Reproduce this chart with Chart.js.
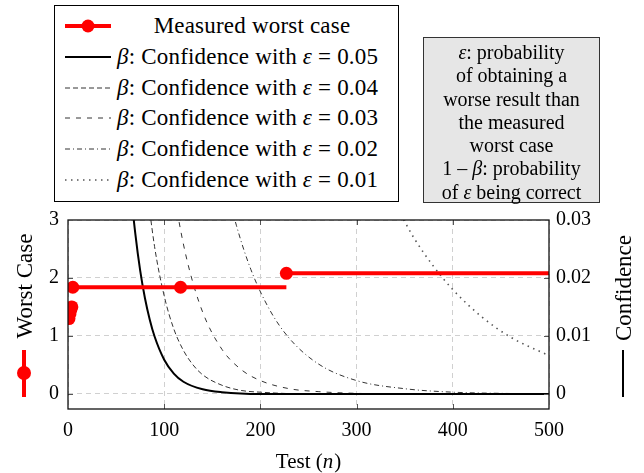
<!DOCTYPE html>
<html>
<head>
<meta charset="utf-8">
<script src="https://cdn.jsdelivr.net/npm/chart.js@4.4.0/dist/chart.umd.min.js"></script>
<style>
  body { margin: 0; background: #fff; }
  #wrap { position: relative; width: 644px; height: 473px; font-family: "Liberation Serif", serif; color: #000; }
  #chart { position: absolute; left: 0; top: 0; }
  #legend { position: absolute; left: 54px; top: 5px; width: 345px; height: 197px; border: 1.3px solid #000; box-sizing: border-box; background: #fff; font-size: 23px; }
  .row { position: absolute; left: 0; height: 30px; width: 100%; }
  .row svg { position: absolute; left: 10px; top: 0; }
  .row span { position: absolute; left: 62px; top: 0; white-space: nowrap; line-height: 30px; letter-spacing: 0.2px; }
  .row span.center { width: 270px; text-align: center; }
  #note { position: absolute; left: 423px; top: 37px; width: 177px; height: 166px; box-sizing: border-box; border: 1.2px solid #333; background: #e6e6e6; font-size: 20px; line-height: 23.3px; text-align: center; padding-top: 3px; }
</style>
</head>
<body>
<div id="wrap">
  <canvas id="chart" width="644" height="473"></canvas>
  <div id="legend"></div>
  <div id="note">
    <i>ε</i>: probability<br>of obtaining a<br>worse result than<br>the measured<br>worst case<br>1 – <i>β</i>: probability<br>of <i>ε</i> being correct
  </div>
</div>
<script>
// Measured worst case (left axis)
const worstN = [1, 2, 3, 4, 5, 117, 227];
const worstVal = [1.30, 1.38, 1.45, 1.50, 1.84, 1.84, 2.08];
const xEnd = 500;

// Confidence curves (right axis)
const conf05N = [60, 65, 70, 75, 80, 85, 90, 100, 110, 120, 140, 160, 200, 250, 500];
const conf05 = [0.0461, 0.0356, 0.0276, 0.0213, 0.0165, 0.0128, 0.0099, 0.0059, 0.0035, 0.0021, 0.0008, 0.0003, 0.0000, 0, 0];
const conf04N = [80, 90, 100, 110, 120, 130, 140, 160, 180, 200, 250, 300, 500];
const conf04 = [0.0382, 0.0254, 0.0169, 0.0112, 0.0075, 0.0050, 0.0033, 0.0015, 0.0006, 0.0003, 0.0000, 0, 0];
const conf03N = [105, 115, 125, 140, 160, 180, 200, 230, 260, 300, 350, 500];
const conf03 = [0.0409, 0.0301, 0.0222, 0.0141, 0.0077, 0.0042, 0.0023, 0.0009, 0.0004, 0.0001, 0.0000, 0];
const conf02N = [165, 175, 190, 210, 230, 260, 300, 350, 400, 450, 500];
const conf02 = [0.0357, 0.0291, 0.0215, 0.0144, 0.0096, 0.0052, 0.0023, 0.0009, 0.0003, 0.0001, 0.0000];
const conf01N = [340, 360, 380, 400, 430, 460, 500];
const conf01 = [0.0328, 0.0268, 0.0220, 0.0180, 0.0133, 0.0098, 0.0066];

// Tick labels
const xTicks = [0, 100, 200, 300, 400, 500];
const worstTicks = [0, 1, 2, 3];
const confTicks = [0, 0.01, 0.02, 0.03];
const confTickLabels = ['0', '0.01', '0.02', '0.03'];

const serif = '"Liberation Serif", serif';
const tickFont = { family: serif, size: 20 };

// each measured value is drawn as a flat segment up to the next measurement
const worstPoints = [];
worstN.forEach((n, i) => {
  const next = i + 1 < worstN.length ? worstN[i + 1] : xEnd;
  worstPoints.push({ x: n, y: worstVal[i], mark: true });
  worstPoints.push({ x: next, y: worstVal[i] });
  worstPoints.push({ x: next, y: null });
});

const pair = (ns, vs) => ns.map((n, i) => ({ x: n, y: vs[i] }));

const confStyles = [
  { label: 'ε = 0.05', data: pair(conf05N, conf05), color: '#000', width: 2, dash: [] },
  { label: 'ε = 0.04', data: pair(conf04N, conf04), color: '#333', width: 1, dash: [5, 3] },
  { label: 'ε = 0.03', data: pair(conf03N, conf03), color: '#333', width: 1, dash: [5, 6] },
  { label: 'ε = 0.02', data: pair(conf02N, conf02), color: '#333', width: 1, dash: [5, 3, 1, 3] },
  { label: 'ε = 0.01', data: pair(conf01N, conf01), color: '#555', width: 1.6, dash: [1.5, 4.5] }
];

const datasets = [{
  label: 'Measured worst case',
  data: worstPoints,
  yAxisID: 'y',
  borderColor: '#ff0000',
  backgroundColor: '#ff0000',
  borderWidth: 4,
  pointRadius: ctx => (ctx.raw && ctx.raw.mark ? 6.5 : 0),
  pointBorderWidth: 0,
  spanGaps: false,
  order: 0
}];
confStyles.forEach(s => {
  datasets.push({
    label: s.label,
    data: s.data,
    yAxisID: 'y2',
    borderColor: s.color,
    borderWidth: s.width,
    borderDash: s.dash,
    pointRadius: 0,
    cubicInterpolationMode: 'monotone',
    order: 1
  });
});

// legend (pgfplots style)
const legend = document.getElementById('legend');
const legendRows = [
  { svg: '<line x1="0" y1="15" x2="46" y2="15" stroke="#f00" stroke-width="4"/><circle cx="23" cy="15" r="6.5" fill="#f00"/>', text: 'Measured worst case', center: true },
  { svg: '<line x1="0" y1="15" x2="46" y2="15" stroke="#000" stroke-width="2"/>', text: '<i>β</i>: Confidence with <i>ε</i> = 0.05' },
  { svg: '<line x1="0" y1="15" x2="46" y2="15" stroke="#333" stroke-width="1" stroke-dasharray="5 3"/>', text: '<i>β</i>: Confidence with <i>ε</i> = 0.04' },
  { svg: '<line x1="0" y1="15" x2="46" y2="15" stroke="#333" stroke-width="1" stroke-dasharray="5 6"/>', text: '<i>β</i>: Confidence with <i>ε</i> = 0.03' },
  { svg: '<line x1="0" y1="15" x2="46" y2="15" stroke="#333" stroke-width="1" stroke-dasharray="5 3 1 3"/>', text: '<i>β</i>: Confidence with <i>ε</i> = 0.02' },
  { svg: '<line x1="0" y1="15" x2="46" y2="15" stroke="#555" stroke-width="1.6" stroke-dasharray="1.5 4.5"/>', text: '<i>β</i>: Confidence with <i>ε</i> = 0.01' }
];
legendRows.forEach((r, i) => {
  const row = document.createElement('div');
  row.className = 'row';
  row.style.top = (5 + i * 30.8) + 'px';
  row.innerHTML = '<svg width="46" height="30">' + r.svg + '</svg><span' + (r.center ? ' class="center"' : '') + '>' + r.text + '</span>';
  legend.appendChild(row);
});

// frame, inside ticks and axis titles with their icons
const decorations = {
  id: 'decorations',
  afterDraw(chart) {
    const { ctx, chartArea: a, scales } = chart;
    ctx.save();
    ctx.strokeStyle = '#555';
    ctx.lineWidth = 1;
    xTicks.slice(1, -1).forEach(v => {
      const px = Math.round(scales.x.getPixelForValue(v)) + 0.5;
      ctx.beginPath();
      ctx.moveTo(px, a.bottom); ctx.lineTo(px, a.bottom - 5);
      ctx.moveTo(px, a.top); ctx.lineTo(px, a.top + 5);
      ctx.stroke();
    });
    worstTicks.slice(0, -1).forEach(v => {
      const py = Math.round(scales.y.getPixelForValue(v)) + 0.5;
      ctx.beginPath();
      ctx.moveTo(a.left, py); ctx.lineTo(a.left + 5, py);
      ctx.stroke();
    });
    confTicks.slice(0, -1).forEach(v => {
      const py = Math.round(scales.y2.getPixelForValue(v)) + 0.5;
      ctx.beginPath();
      ctx.moveTo(a.right, py); ctx.lineTo(a.right - 5, py);
      ctx.stroke();
    });
    ctx.strokeStyle = '#111';
    ctx.lineWidth = 1.3;
    ctx.strokeRect(a.left, a.top, a.right - a.left, a.bottom - a.top);

    // x title: Test (n)
    ctx.fillStyle = '#000';
    ctx.textBaseline = 'alphabetic';
    const up = '21px ' + serif, it = 'italic 21px ' + serif;
    ctx.font = up;
    const w1 = ctx.measureText('Test (').width, w3 = ctx.measureText(')').width;
    ctx.font = it;
    const w2 = ctx.measureText('n').width + 1;
    const tx = (a.left + a.right) / 2 - (w1 + w2 + w3) / 2;
    const ty = 468;
    ctx.font = up; ctx.fillText('Test (', tx, ty);
    ctx.font = it; ctx.fillText('n', tx + w1, ty);
    ctx.font = up; ctx.fillText(')', tx + w1 + w2, ty);

    const big = '23px ' + serif;
    // left title + red icon
    ctx.save();
    ctx.translate(32, 286);
    ctx.rotate(-Math.PI / 2);
    ctx.font = big;
    ctx.textAlign = 'center';
    ctx.fillText('Worst Case', 0, 0);
    ctx.restore();
    ctx.strokeStyle = '#f00';
    ctx.fillStyle = '#f00';
    ctx.lineWidth = 4;
    ctx.beginPath(); ctx.moveTo(24, 350); ctx.lineTo(24, 397); ctx.stroke();
    ctx.beginPath(); ctx.arc(24, 373, 7, 0, Math.PI * 2); ctx.fill();

    // right title + black line icon
    ctx.fillStyle = '#000';
    ctx.save();
    ctx.translate(631, 288);
    ctx.rotate(-Math.PI / 2);
    ctx.font = big;
    ctx.textAlign = 'center';
    ctx.fillText('Confidence', 0, 0);
    ctx.restore();
    ctx.strokeStyle = '#000';
    ctx.lineWidth = 2;
    ctx.beginPath(); ctx.moveTo(623, 350); ctx.lineTo(623, 397); ctx.stroke();
    ctx.restore();
  }
};

const gridStyle = { color: '#d0d0d0', lineWidth: 1, drawTicks: false };

new Chart(document.getElementById('chart'), {
  type: 'line',
  data: { datasets },
  options: {
    responsive: false,
    animation: false,
    layout: { padding: { top: 220, left: 0, right: 0, bottom: 0 } },
    plugins: { legend: { display: false }, tooltip: { enabled: false } },
    scales: {
      x: {
        type: 'linear', min: 0, max: xEnd,
        afterBuildTicks: s => { s.ticks = xTicks.map(v => ({ value: v })); },
        afterFit: s => { s.height = 64; },
        grid: gridStyle,
        border: { display: false, dash: [5, 4] },
        ticks: { font: tickFont, color: '#000', padding: 10, maxRotation: 0 }
      },
      y: {
        position: 'left', min: -0.26, max: 3,
        afterBuildTicks: s => { s.ticks = worstTicks.map(v => ({ value: v })); },
        afterFit: s => { s.width = 68; },
        grid: gridStyle,
        border: { display: false, dash: [5, 4] },
        ticks: { font: tickFont, color: '#000', padding: 9 }
      },
      y2: {
        position: 'right', min: -0.0026, max: 0.03,
        afterBuildTicks: s => { s.ticks = confTicks.map(v => ({ value: v })); },
        afterFit: s => { s.width = 95; },
        grid: { drawOnChartArea: false, drawTicks: false },
        border: { display: false },
        ticks: {
          font: tickFont, color: '#000', padding: 7,
          callback: (v, i) => confTickLabels[i]
        }
      }
    }
  },
  plugins: [decorations]
});
</script>
</body>
</html>
